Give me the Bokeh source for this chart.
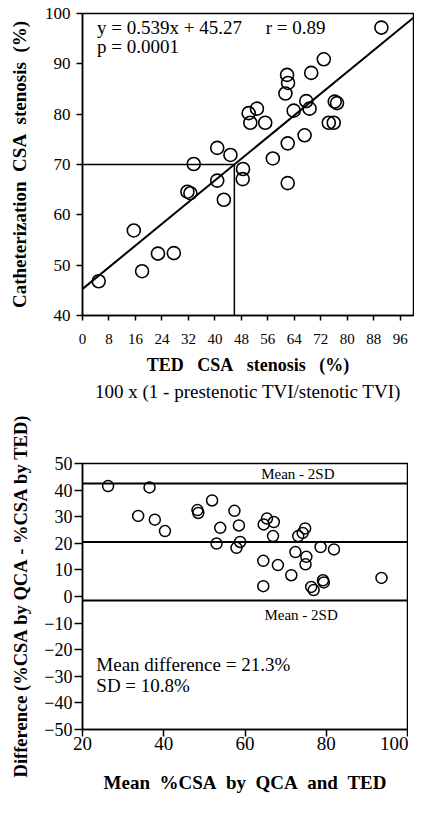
from bokeh.plotting import figure
from bokeh.layouts import column
from bokeh.models import Label, Title, Slope, Span, FixedTicker
from bokeh.embed import file_html
from bokeh.resources import INLINE

FONT = "Liberation Serif"
NB = "\u00a0"

# ---------- top panel data ----------
ted_x = [4.9, 15.5, 18.0, 22.8, 27.6, 31.7, 32.6, 33.6, 40.7, 40.7, 42.7, 44.7,
         48.4, 48.5, 50.2, 50.7, 52.7, 55.2, 57.5, 61.3, 61.8, 62.1, 62.0, 62.0,
         63.8, 67.1, 67.6, 68.6, 69.1, 72.9, 74.4, 75.9, 76.2, 76.9, 90.3]
cath_y = [46.8, 56.9, 48.8, 52.3, 52.4, 64.6, 64.3, 70.1, 66.8, 73.3, 63.0, 71.9,
          67.1, 69.1, 80.2, 78.3, 81.1, 78.3, 71.2, 84.1, 87.8, 86.2, 74.2, 66.3,
          80.7, 75.8, 82.6, 81.1, 88.2, 90.9, 78.3, 78.3, 82.5, 82.2, 97.2]
slope = 0.539
intercept = 45.27
cut_y = 70
top_xticks = [0, 8, 16, 24, 32, 40, 48, 56, 64, 72, 80, 88, 96]
top_yticks = [40, 50, 60, 70, 80, 90, 100]

# ---------- bottom panel data ----------
mean_x = [26.3, 36.5, 33.7, 37.8, 40.3, 48.3, 48.5, 51.9, 53.9, 53.0, 57.4, 58.5,
          58.8, 57.9, 65.4, 64.6, 67.1, 66.9, 64.5, 64.5, 68.1, 71.4, 72.4, 73.1,
          74.2, 74.8, 75.1, 74.9, 76.3, 76.9, 78.6, 81.9, 79.2, 79.4, 93.6]
diff_y = [41.5, 41.0, 30.3, 28.9, 24.6, 32.5, 31.4, 36.1, 25.8, 19.9, 32.2, 26.7,
          20.5, 18.3, 29.3, 27.1, 28.0, 22.7, 13.4, 3.9, 11.8, 8.0, 16.7, 22.7,
          23.9, 25.6, 14.9, 12.1, 3.6, 2.4, 18.6, 17.7, 6.1, 5.3, 7.0]
upper_line = 42.5
mean_line = 20.5
lower_line = -1.5
bot_xticks = [20, 40, 60, 80, 100]
bot_yticks = [-50, -40, -30, -20, -10, 0, 10, 20, 30, 40, 50]


def sp(n):
    return NB * n


def style(p):
    p.outline_line_color = "black"
    p.outline_line_width = 1.5
    p.outline_line_alpha = 1
    p.xgrid.visible = False
    p.ygrid.visible = False
    for ax in (p.xaxis[0], p.yaxis[0]):
        ax.axis_line_color = "black"
        ax.axis_line_width = 1.5
        ax.major_tick_line_color = "black"
        ax.major_tick_line_width = 1.5
        ax.major_tick_in = 0
        ax.minor_tick_line_color = None
        ax.major_label_text_font = FONT
        ax.major_label_text_color = "black"
        ax.axis_label_text_font = FONT
        ax.axis_label_text_font_style = "bold"
        ax.axis_label_text_color = "black"


# ---------- top figure ----------
p1 = figure(width=414, height=402, output_backend="svg", toolbar_location=None,
            x_range=(0, 100), y_range=(40, 100),
            min_border_left=82, min_border_right=1, min_border_top=13, min_border_bottom=82)
style(p1)
p1.xaxis.ticker = FixedTicker(ticks=top_xticks)
p1.yaxis.ticker = FixedTicker(ticks=top_yticks)
p1.xaxis.major_label_text_font_size = "15px"
p1.yaxis.major_label_text_font_size = "17px"
p1.xaxis.major_tick_out = 5
p1.yaxis.major_tick_out = 6
p1.xaxis.major_label_standoff = 13
p1.yaxis.major_label_standoff = 6
p1.xaxis.axis_label = "TED" + sp(3) + "CSA" + sp(3) + "stenosis" + sp(3) + "(%)"
p1.xaxis.axis_label_text_font_size = "18px"
p1.xaxis.axis_label_standoff = 8
p1.yaxis.axis_label = "Catheterization" + sp(2) + "CSA" + sp(2) + "stenosis" + sp(2) + "(%)"
p1.yaxis.axis_label_text_font_size = "19px"
p1.yaxis.axis_label_standoff = 12

p1.add_layout(Slope(gradient=slope, y_intercept=intercept, line_color="black", line_width=2))
x_cut = (cut_y - intercept) / slope
p1.segment(x0=[0, x_cut], y0=[cut_y, 40], x1=[x_cut, x_cut], y1=[cut_y, cut_y],
           line_color="black", line_width=1.5)
p1.scatter(x=ted_x, y=cath_y, size=13, fill_color="white", fill_alpha=0,
           line_color="black", line_width=1.6)
p1.add_layout(Label(x=4.4, y=97.2, text="y = 0.539x + 45.27" + sp(5) + "r = 0.89",
                    text_font=FONT, text_font_size="19px", text_baseline="middle",
                    text_color="black"))
p1.add_layout(Label(x=4.4, y=93.4, text="p = 0.0001",
                    text_font=FONT, text_font_size="19px", text_baseline="middle",
                    text_color="black"))
p1.add_layout(Title(text="100 x (1 - prestenotic TVI/stenotic TVI)", align="center",
                    text_font=FONT, text_font_size="19px", text_font_style="normal",
                    text_color="black", offset=0, standoff=2), "below")

# ---------- bottom figure ----------
p2 = figure(width=408, height=412, output_backend="svg", toolbar_location=None,
            x_range=(20, 100), y_range=(-50, 50),
            min_border_left=82, min_border_right=1, min_border_top=61, min_border_bottom=85)
style(p2)
p2.xaxis.ticker = FixedTicker(ticks=bot_xticks)
p2.yaxis.ticker = FixedTicker(ticks=bot_yticks)
p2.xaxis.major_label_text_font_size = "19px"
p2.yaxis.major_label_text_font_size = "18px"
p2.xaxis.major_tick_out = 7
p2.yaxis.major_tick_out = 8
p2.xaxis.major_label_standoff = 0
p2.yaxis.major_label_standoff = 2
p2.xaxis.axis_label = "Mean" + sp(2) + "%CSA" + sp(2) + "by" + sp(2) + "QCA" + sp(2) + "and" + sp(2) + "TED"
p2.xaxis.axis_label_text_font_size = "19px"
p2.xaxis.axis_label_standoff = 19
p2.yaxis.axis_label = (
    "Difference" + sp(1) + "(%CSA" + sp(1) + "by" + sp(1) + "QCA" + sp(1) + "-" + sp(1)
    + "%CSA" + sp(1) + "by" + sp(1) + "TED)"
)
p2.yaxis.axis_label_text_font_size = "18.5px"
p2.yaxis.axis_label_standoff = 10

for yv in (upper_line, mean_line, lower_line):
    p2.add_layout(Span(location=yv, dimension="width", line_color="black", line_width=2))
p2.scatter(x=mean_x, y=diff_y, size=11, fill_color="white", fill_alpha=0,
           line_color="black", line_width=1.5)
p2.add_layout(Label(x=73.0, y=46, text="Mean - 2SD", text_font=FONT,
                    text_font_size="15px", text_align="center", text_baseline="middle",
                    text_color="black"))
p2.add_layout(Label(x=73.8, y=-7, text="Mean - 2SD", text_font=FONT,
                    text_font_size="15px", text_align="center", text_baseline="middle",
                    text_color="black"))
p2.add_layout(Label(x=23.4, y=-25.7, text="Mean difference = 21.3%", text_font=FONT,
                    text_font_size="19px", text_baseline="middle", text_color="black"))
p2.add_layout(Label(x=23.4, y=-33.4, text="SD = 10.8%", text_font=FONT,
                    text_font_size="19px", text_baseline="middle", text_color="black"))

layout = column(p1, p2, spacing=0)
open("out.html", "w").write(file_html(layout, INLINE))
